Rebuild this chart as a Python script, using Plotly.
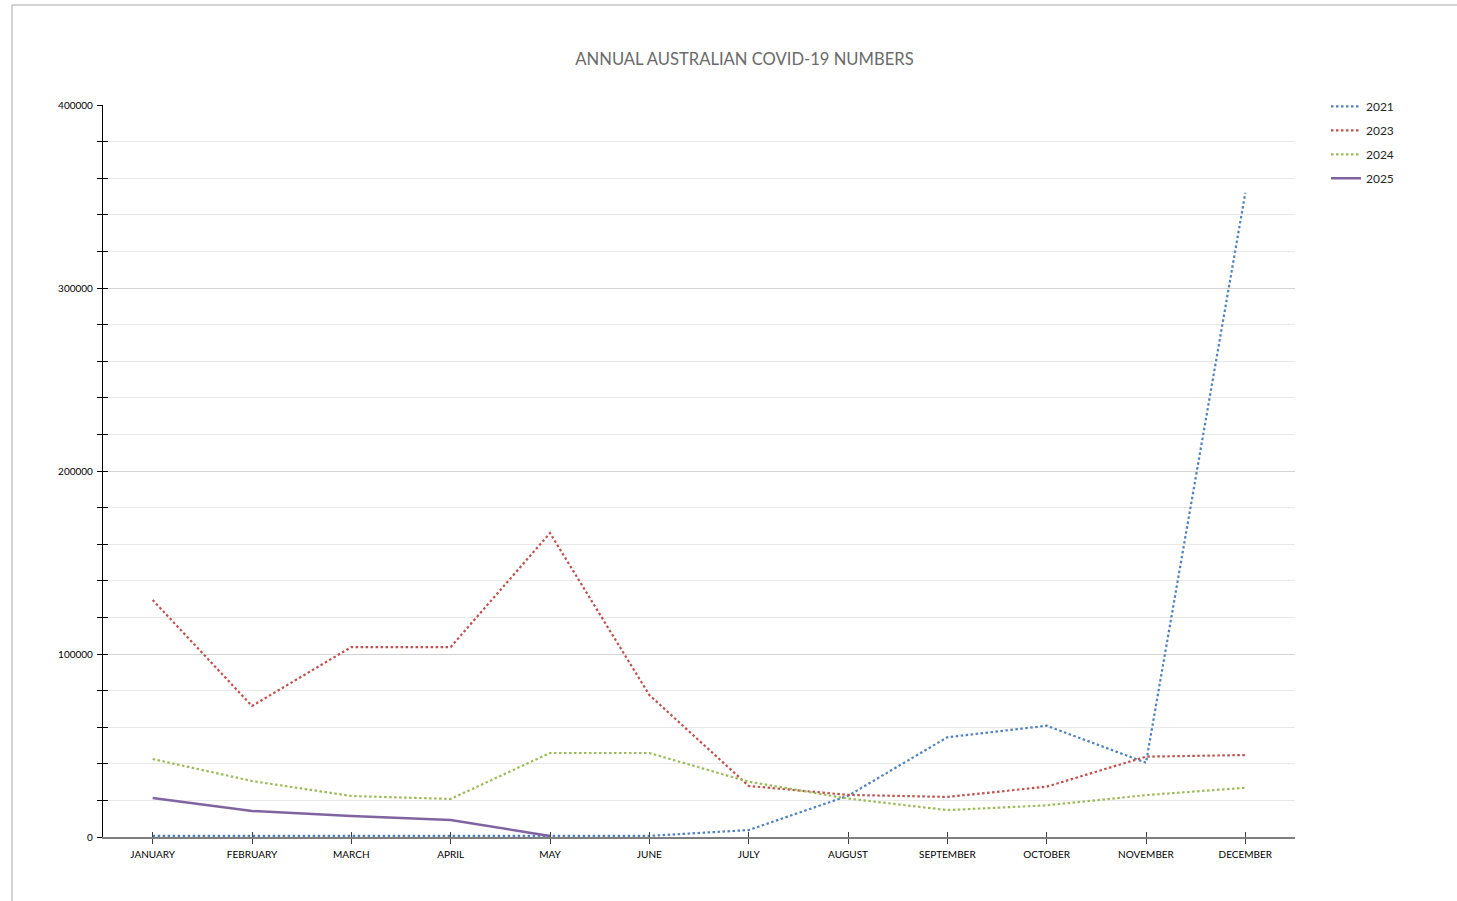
import plotly.graph_objects as go

months = ["JANUARY", "FEBRUARY", "MARCH", "APRIL", "MAY", "JUNE",
          "JULY", "AUGUST", "SEPTEMBER", "OCTOBER", "NOVEMBER", "DECEMBER"]

cases_2021 = [600, 400, 600, 600, 400, 600, 3800, 22500, 54500, 60800, 40600, 352000]
cases_2023 = [129500, 71600, 103800, 103800, 166100, 77600, 27900, 23000, 21900, 27500, 43900, 44800]
cases_2024 = [42600, 30600, 22400, 20800, 45900, 45900, 30200, 21000, 14700, 17300, 22900, 26900]
cases_2025 = [21300, 14200, 11500, 9300, 500]
months_2025 = months[:5]

y_tickvals = [0, 100000, 200000, 300000, 400000]
y_ticktext = ["0", "100000", "200000", "300000", "400000"]

series = [
    ("2021", months, cases_2021, "#4F81BD", "2.5px,2.5px", 2.2, ("x", "y")),
    ("2023", months, cases_2023, "#C0504D", "2.5px,2.5px", 2.2, ("x", "y")),
    ("2024", months, cases_2024, "#9BBB59", "2.5px,2.5px", 2.2, ("x", "y")),
    ("2025", months_2025, cases_2025, "#8064A2", "solid", 2.5, ("x2", "y2")),
]

fig = go.Figure()
for name, xs, ys, color, dash, w, (xa, ya) in series:
    fig.add_trace(go.Scatter(
        x=xs, y=ys, name=name, mode="lines", xaxis=xa, yaxis=ya,
        line=dict(color=color, width=w, dash=dash),
        legendgroup=name,
    ))

FONT = "Lato, 'Open Sans', sans-serif"

common_x = dict(type="category", categoryorder="array", categoryarray=months,
                range=[-0.5, 11.5])
common_y = dict(range=[0, 400000])

fig.update_layout(
    width=1457, height=901,
    margin=dict(l=103, r=162, t=105, b=64),
    paper_bgcolor="white", plot_bgcolor="white",
    font=dict(family=FONT, color="#000000", size=10),
    title=dict(text="ANNUAL AUSTRALIAN COVID-19 NUMBERS", x=0.511, xanchor="center",
               y=1 - 59 / 901, yanchor="middle", yref="container",
               font=dict(family=FONT, size=16.6, color="#6A6A6A")),
    showlegend=True,
    legend=dict(x=1.026, y=1.018, xanchor="left", yanchor="top",
                font=dict(family=FONT, size=12, color="#262626"),
                tracegroupgap=5, bgcolor="rgba(0,0,0,0)", itemwidth=30),
    xaxis=dict(**common_x, showline=True, linecolor="#7f7f7f", linewidth=1.5,
               ticks="outside", ticklen=5, tickcolor="#404040", tickwidth=1.2,
               showgrid=False, zeroline=False,
               tickfont=dict(family=FONT, size=10, color="#000000"),
               ticklabelstandoff=2),
    yaxis=dict(**common_y, tickmode="array", tickvals=y_tickvals, ticktext=y_ticktext,
               showline=True, linecolor="#000000", linewidth=1.2,
               ticks="outside", ticklen=5, tickcolor="#000000", tickwidth=1,
               showgrid=True, gridcolor="#D4D4D4", gridwidth=1, zeroline=False,
               minor=dict(dtick=20000, tick0=0, ticks="outside", ticklen=5,
                          tickcolor="#000000", showgrid=True, gridcolor="#E8E8E8", gridwidth=1),
               tickfont=dict(family=FONT, size=10, color="#000000"),
               ticklabelstandoff=2),
    xaxis2=dict(**common_x, overlaying="x", anchor="y2", showline=False,
                ticks="inside", ticklen=5, tickcolor="#404040", tickwidth=1.2,
                showticklabels=False, showgrid=False, zeroline=False),
    yaxis2=dict(**common_y, overlaying="y", anchor="x2", side="left",
                tickmode="array", tickvals=y_tickvals, showline=False,
                ticks="inside", ticklen=5, tickcolor="#000000", tickwidth=1,
                showticklabels=False, showgrid=False, zeroline=False,
                minor=dict(dtick=20000, tick0=0, ticks="inside", ticklen=5,
                           tickcolor="#000000", showgrid=False)),
)

# outer chart frame (top and left edges visible in the reference)
fig.add_shape(type="rect", xref="paper", yref="paper",
              x0=(12 - 103) / 1192, x1=1.2, y0=-0.2, y1=(837 - 5) / 732,
              line=dict(color="#A6A6A6", width=1), fillcolor="rgba(0,0,0,0)",
              layer="below")

fig.write_html("out.html", config={"displayModeBar": False},
               post_script="document.body.style.margin='0';document.body.style.overflow='hidden';")
